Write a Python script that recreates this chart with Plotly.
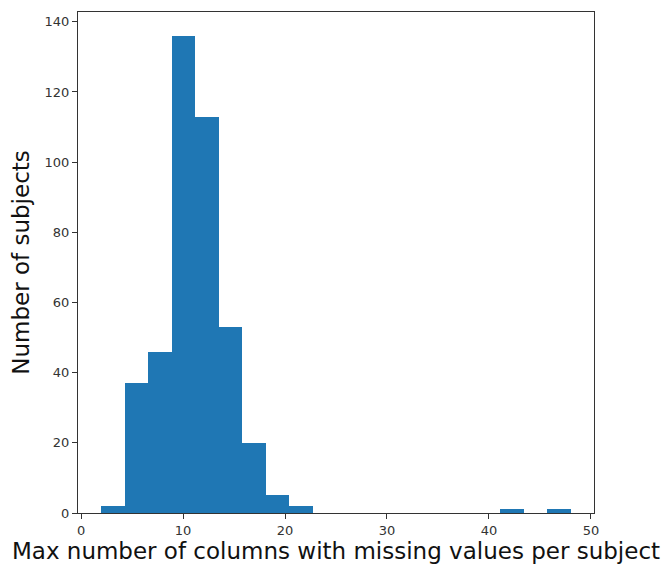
import numpy as np
import plotly.graph_objects as go

# Histogram specification
bin_start = 2.0
bin_end = 48.0
counts = [2, 37, 46, 136, 113, 53, 20, 5, 2, 0, 0, 0, 0, 0, 0, 0, 0, 1, 0, 1]
x_ticks = [0, 10, 20, 30, 40, 50]
y_ticks = [0, 20, 40, 60, 80, 100, 120, 140]

n_bins = len(counts)
edges = np.linspace(bin_start, bin_end, n_bins + 1)
centers = (edges[:-1] + edges[1:]) / 2
widths = np.diff(edges)

fig = go.Figure(
    go.Bar(
        x=centers,
        y=counts,
        width=widths,
        marker=dict(color="#1f77b4", line=dict(width=0)),
    )
)

span = bin_end - bin_start
ymax = max(counts)
axis_common = dict(
    showgrid=False,
    zeroline=False,
    showline=True,
    linecolor="#333333",
    linewidth=1,
    mirror=True,
    ticks="outside",
    ticklen=5,
    tickwidth=1,
    tickcolor="#333333",
    tickfont=dict(family="DejaVu Sans", size=13, color="#333333"),
)

fig.update_layout(
    width=664,
    height=567,
    margin=dict(l=78, r=70, t=11, b=52),
    paper_bgcolor="white",
    plot_bgcolor="white",
    bargap=0,
    showlegend=False,
    xaxis=dict(
        range=[bin_start - 0.05 * span, bin_end + 0.05 * span],
        tickvals=x_ticks,
        title=dict(
            text="Max number of columns with missing values per subject",
            font=dict(family="DejaVu Sans", size=23, color="#111111"),
            standoff=2,
        ),
        **axis_common,
    ),
    yaxis=dict(
        range=[0, ymax * 1.05],
        tickvals=y_ticks,
        title=dict(
            text="Number of subjects",
            font=dict(family="DejaVu Sans", size=23, color="#111111"),
            standoff=8,
        ),
        **axis_common,
    ),
)

fig.write_html("out.html")
